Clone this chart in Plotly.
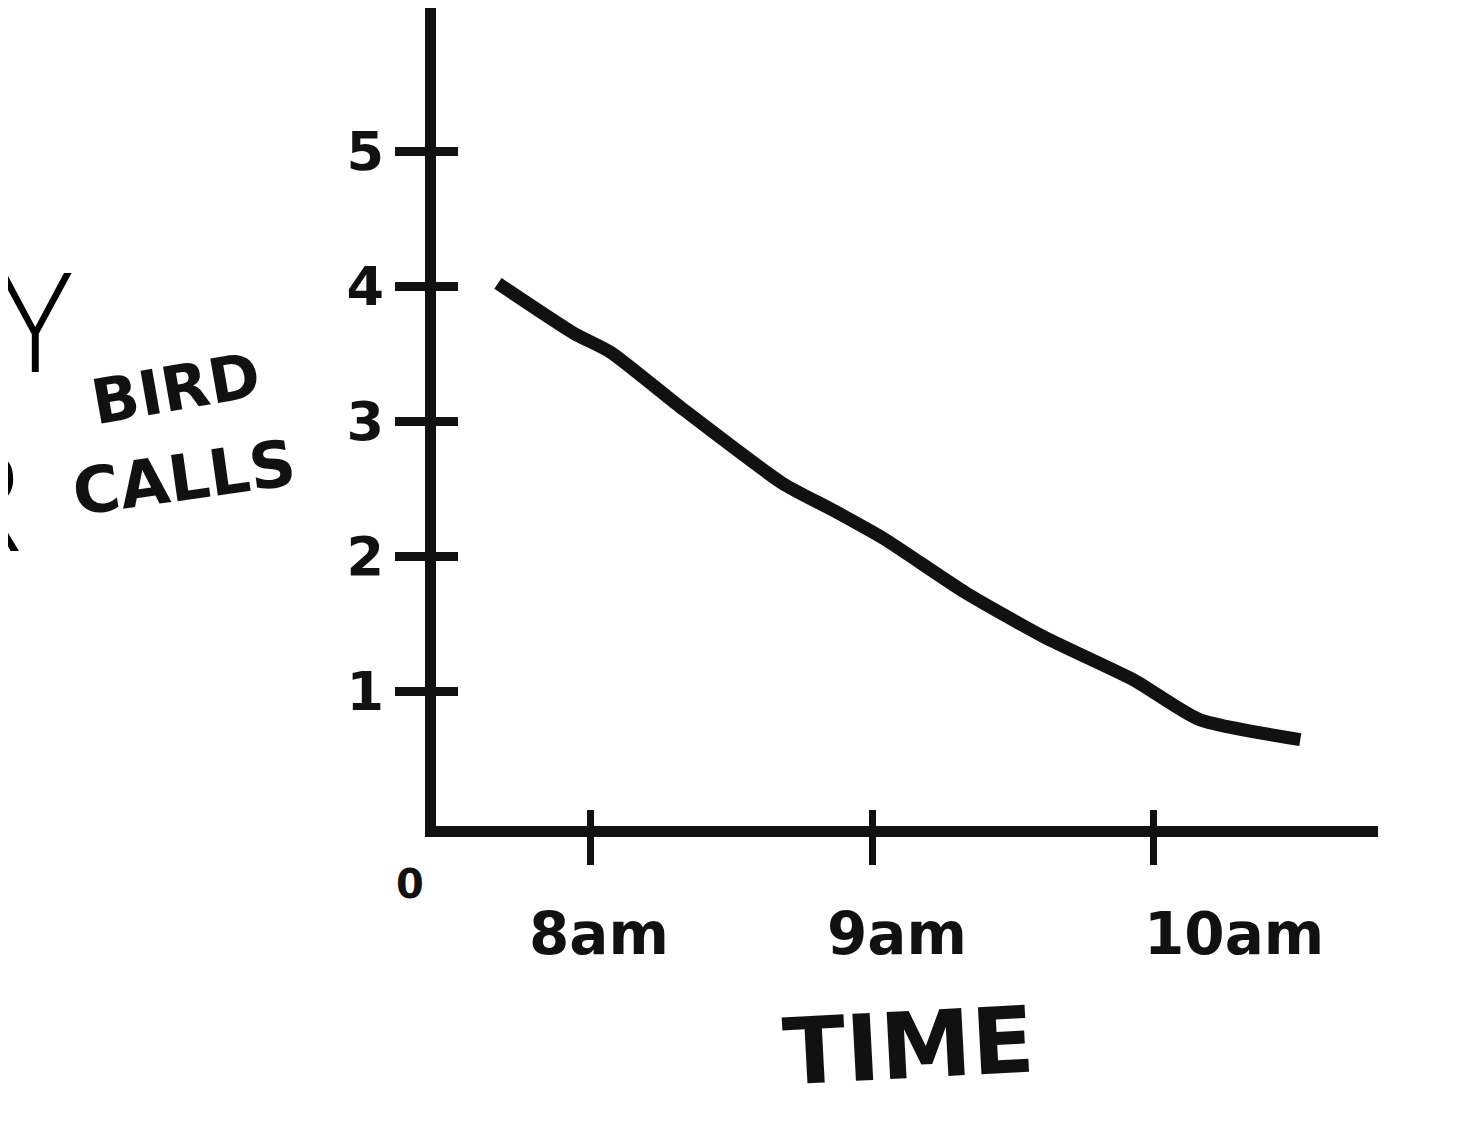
import plotly.graph_objects as go

# ---- data ----
time_hours = [7.67, 7.94, 8.07, 8.32, 8.68, 8.86, 9.04, 9.33, 9.61, 9.93, 10.16, 10.52]
bird_calls = [4.02, 3.65, 3.51, 3.10, 2.54, 2.34, 2.13, 1.73, 1.40, 1.08, 0.79, 0.64]

x_tick_vals = [8, 9, 10]
x_tick_text = ["8am", "9am", "10am"]
y_tick_vals = [1, 2, 3, 4, 5]
y_tick_text = ["1", "2", "3", "4", "5"]

x_title = "TIME"
y_title_lines = ["BIRD", "CALLS"]
side_letters = ["Y", "R"]
origin_label = "0"

# ---- layout geometry (pixels) ----
W, H = 1461, 1124
ML, MR, MT, MB = 428, 91, 0, 306
PW, PH = W - ML - MR, H - MT - MB

def px_x(p):
    return (p - ML) / PW

def px_y(p):
    return (H - MB - p) / PH

HAND = "DejaVu Sans"
INK = "#111111"

fig = go.Figure()
fig.add_trace(go.Scatter(
    x=time_hours, y=bird_calls, mode="lines",
    line=dict(color=INK, width=13, shape="spline", smoothing=0.6),
    hoverinfo="skip", showlegend=False,
))

x_range = [7.45, 10.796]
y_range = [0, 6.06]

fig.update_layout(
    width=W, height=H,
    margin=dict(l=ML, r=MR, t=MT, b=MB),
    paper_bgcolor="white", plot_bgcolor="white",
    showlegend=False,
    xaxis=dict(
        range=x_range, showgrid=False, zeroline=False,
        showline=True, linecolor=INK, linewidth=11,
        tickvals=x_tick_vals, ticktext=["" for _ in x_tick_text],
        ticks="outside", ticklen=28, tickwidth=7, tickcolor=INK,
        fixedrange=True,
    ),
    xaxis2=dict(
        range=x_range, overlaying="x", anchor="y", side="bottom",
        showgrid=False, zeroline=False, showline=False,
        tickvals=x_tick_vals, showticklabels=False,
        ticks="inside", ticklen=16, tickwidth=7, tickcolor=INK,
        fixedrange=True,
    ),
    yaxis=dict(
        range=y_range, showgrid=False, zeroline=False,
        showline=True, linecolor=INK, linewidth=11,
        tickvals=y_tick_vals, ticktext=y_tick_text,
        ticks="outside", ticklen=30, tickwidth=9, tickcolor=INK,
        tickfont=dict(family=HAND, size=54, color=INK, weight="bold"),
        fixedrange=True,
    ),
    yaxis2=dict(
        range=y_range, overlaying="y", anchor="x", side="left",
        showgrid=False, zeroline=False, showline=False,
        tickvals=y_tick_vals, showticklabels=False,
        ticks="inside", ticklen=22, tickwidth=9, tickcolor=INK,
        fixedrange=True,
    ),
)
# dummy trace so the overlay axes render
fig.add_trace(go.Scatter(x=[None], y=[None], xaxis="x2", yaxis="y2",
                         showlegend=False, hoverinfo="skip"))

# x tick labels (hand-placed slightly to the right like the sketch)
x_label_shift = [8, 25, 80]
for v, t, s in zip(x_tick_vals, x_tick_text, x_label_shift):
    fig.add_annotation(x=v, y=px_y(926), xref="x", yref="paper", text=t,
                       showarrow=False, xanchor="center", yanchor="middle",
                       xshift=s,
                       font=dict(family=HAND, size=58, color=INK, weight="bold"))

# axis title TIME
fig.add_annotation(x=px_x(900), y=px_y(1038), xref="paper", yref="paper",
                   text=x_title, showarrow=False, textangle=-3,
                   xanchor="center", yanchor="middle",
                   font=dict(family=HAND, size=92, color=INK, weight="bold"))

# y title BIRD / CALLS
fig.add_annotation(x=px_x(168), y=px_y(380), xref="paper", yref="paper",
                   text=y_title_lines[0], showarrow=False, textangle=-10,
                   xanchor="center", yanchor="middle",
                   font=dict(family=HAND, size=62, color=INK, weight="bold"))
fig.add_annotation(x=px_x(176), y=px_y(470), xref="paper", yref="paper",
                   text=y_title_lines[1], showarrow=False, textangle=-8,
                   xanchor="center", yanchor="middle",
                   font=dict(family=HAND, size=64, color=INK, weight="bold"))

# origin label
fig.add_annotation(x=px_x(402), y=px_y(876), xref="paper", yref="paper",
                   text=origin_label, showarrow=False,
                   xanchor="center", yanchor="middle",
                   font=dict(family=HAND, size=40, color=INK, weight="bold"))

# big clipped letters at the left edge (one two-line block, partly off the page)
fig.add_annotation(x=px_x(-70), y=px_y(399), xref="paper", yref="paper",
                   text="&#160;&#8201;" + side_letters[0] + "<br>" + side_letters[1],
                   showarrow=False, xanchor="left", yanchor="middle", align="left",
                   font=dict(family="Open Sans", size=138, color="#000000", weight=300))

fig.write_html("out.html")
